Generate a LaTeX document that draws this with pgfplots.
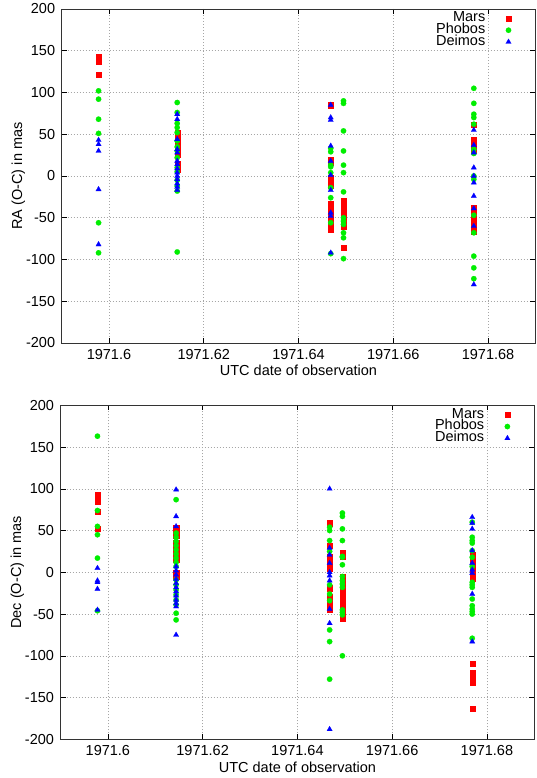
\documentclass[border=0pt]{standalone}
\usepackage{fontspec}
\setmainfont{Liberation Sans}
\usepackage{pgfplots}
\usepackage{pgfplotstable}
\pgfplotsset{compat=1.18}
% strip the year so that pgfplots works with the fraction (precision)
\def\stripyear#1.#2\relax{0.#2}

% ---------------- RA (O-C) ----------------
\pgfplotstableread{
x y
1971.5978 143
1971.5978 140
1971.5978 137
1971.5978 121
1971.6144 52
1971.6144 48
1971.6144 45
1971.6144 42
1971.6144 38
1971.6144 35
1971.6144 30
1971.6144 26
1971.6144 15
1971.6144 8
1971.6468 85
1971.6468 19
1971.6468 16
1971.6468 -2
1971.6468 -6
1971.6468 -11
1971.6468 -33
1971.6468 -38
1971.6468 -43
1971.6468 -49
1971.6468 -55
1971.6468 -60
1971.6468 -64
1971.6495 -30
1971.6495 -35
1971.6495 -40
1971.6495 -45
1971.6495 -50
1971.6495 -55
1971.6495 -60
1971.6495 -86
1971.6770 62
1971.6770 43
1971.6770 39
1971.6770 35
1971.6770 31
1971.6770 -38
1971.6770 -43
1971.6770 -48
1971.6770 -53
1971.6770 -58
1971.6770 -63
1971.6770 -67
}\raMars
\pgfplotstableread{
x y
1971.5978 102
1971.5978 92
1971.5978 68
1971.5978 51
1971.5978 -56
1971.5978 -92
1971.6144 88
1971.6144 76
1971.6144 63
1971.6144 58
1971.6144 52
1971.6144 42
1971.6144 35
1971.6144 30
1971.6144 22
1971.6144 10
1971.6144 5
1971.6144 -5
1971.6144 -12
1971.6144 -18
1971.6144 -91
1971.6468 33
1971.6468 29
1971.6468 13
1971.6468 11
1971.6468 4
1971.6468 -14
1971.6468 -26
1971.6468 -56
1971.6468 -93
1971.6495 90
1971.6495 87
1971.6495 54
1971.6495 30
1971.6495 13
1971.6495 4
1971.6495 -19
1971.6495 -50
1971.6495 -54
1971.6495 -58
1971.6495 -68
1971.6495 -74
1971.6495 -99
1971.6770 105
1971.6770 87
1971.6770 74
1971.6770 70
1971.6770 62
1971.6770 32
1971.6770 27
1971.6770 0
1971.6770 -4
1971.6770 -47
1971.6770 -68
1971.6770 -96
1971.6770 -110
1971.6770 -123
}\raPhobos
\pgfplotstableread{
x y
1971.5978 43
1971.5978 38
1971.5978 30
1971.5978 -16
1971.5978 -82
1971.6144 74
1971.6144 68
1971.6144 44
1971.6144 32
1971.6144 28
1971.6144 18
1971.6144 14
1971.6144 9
1971.6144 4
1971.6144 0
1971.6144 -4
1971.6144 -9
1971.6144 -13
1971.6144 -17
1971.6468 85
1971.6468 70
1971.6468 67
1971.6468 36
1971.6468 18
1971.6468 1
1971.6468 -17
1971.6468 -44
1971.6468 -48
1971.6468 -92
1971.6770 55
1971.6770 37
1971.6770 28
1971.6770 10
1971.6770 0
1971.6770 -8
1971.6770 -24
1971.6770 -39
1971.6770 -60
1971.6770 -130
}\raDeimos

% ---------------- Dec (O-C) ----------------
\pgfplotstableread{
x y
1971.5978 93
1971.5978 89
1971.5978 85
1971.5978 73
1971.5978 52
1971.6144 53
1971.6144 48
1971.6144 44
1971.6144 35
1971.6144 30
1971.6144 27
1971.6144 21
1971.6144 15
1971.6144 -1
1971.6144 -5
1971.6468 59
1971.6468 32
1971.6468 19
1971.6468 14
1971.6468 9
1971.6468 5
1971.6468 -19
1971.6468 -29
1971.6468 -34
1971.6468 -39
1971.6468 -44
1971.6495 23
1971.6495 19
1971.6495 -5
1971.6495 -10
1971.6495 -15
1971.6495 -20
1971.6495 -25
1971.6495 -30
1971.6495 -35
1971.6495 -40
1971.6495 -45
1971.6495 -50
1971.6495 -55
1971.6769 21
1971.6769 15
1971.6769 10
1971.6769 5
1971.6769 0
1971.6769 -4
1971.6769 -7
1971.6769 -109
1971.6769 -120
1971.6769 -125
1971.6769 -132
1971.6769 -163
}\deMars
\pgfplotstableread{
x y
1971.5978 163
1971.5978 74
1971.5978 55
1971.5978 45
1971.5978 17
1971.5978 -46
1971.6144 87
1971.6144 47
1971.6144 42
1971.6144 37
1971.6144 32
1971.6144 27
1971.6144 22
1971.6144 17
1971.6144 12
1971.6144 7
1971.6144 -9
1971.6144 -15
1971.6144 -21
1971.6144 -27
1971.6144 -33
1971.6144 -39
1971.6144 -49
1971.6144 -57
1971.6468 54
1971.6468 50
1971.6468 38
1971.6468 25
1971.6468 -15
1971.6468 -26
1971.6468 -34
1971.6468 -69
1971.6468 -83
1971.6468 -128
1971.6495 71
1971.6495 67
1971.6495 52
1971.6495 38
1971.6495 19
1971.6495 18
1971.6495 9
1971.6495 -5
1971.6495 -10
1971.6495 -14
1971.6495 -18
1971.6495 -45
1971.6495 -48
1971.6495 -51
1971.6495 -100
1971.6769 60
1971.6769 42
1971.6769 38
1971.6769 35
1971.6769 26
1971.6769 18
1971.6769 7
1971.6769 -12
1971.6769 -15
1971.6769 -18
1971.6769 -32
1971.6769 -40
1971.6769 -44
1971.6769 -47
1971.6769 -50
1971.6769 -79
}\dePhobos
\pgfplotstableread{
x y
1971.5978 5
1971.5978 -10
1971.5978 -12
1971.5978 -20
1971.5978 -45
1971.6144 99
1971.6144 67
1971.6144 55
1971.6144 7
1971.6144 2
1971.6144 -3
1971.6144 -8
1971.6144 -13
1971.6144 -18
1971.6144 -23
1971.6144 -28
1971.6144 -33
1971.6144 -37
1971.6144 -41
1971.6144 -75
1971.6468 100
1971.6468 29
1971.6468 21
1971.6468 11
1971.6468 0
1971.6468 -4
1971.6468 -10
1971.6468 -44
1971.6468 -61
1971.6468 -188
1971.6769 66
1971.6769 59
1971.6769 52
1971.6769 26
1971.6769 11
1971.6769 3
1971.6769 -1
1971.6769 -26
1971.6769 -83
}\deDeimos

\definecolor{gpred}{RGB}{255,0,0}
\definecolor{gpgreen}{RGB}{0,238,0}
\definecolor{gpblue}{RGB}{0,0,255}

\pgfplotsset{
  gp/.style={
    scale only axis, width=473.8bp, height=334bp,
    anchor=south west,
    xmin=1971.59, xmax=1971.69, ymin=-200, ymax=200,
    x coord trafo/.code={\edef\tmpx{##1}\edef\pgfmathresult{\expandafter\stripyear\tmpx\relax}},
    xtick={1971.6,1971.62,1971.64,1971.66,1971.68},
    xticklabels={1971.6,1971.62,1971.64,1971.66,1971.68},
    ytick={-200,-150,-100,-50,0,50,100,150,200},
    /pgf/number format/assume math mode=true,
    tick label style={font=\fontsize{14.5bp}{17bp}\selectfont},
    label style={font=\fontsize{14.5bp}{17bp}\selectfont},
    xticklabel style={yshift=-3bp},
    yticklabel style={xshift=-3bp},
    ylabel style={yshift=-6bp},
    axis line style={black!80, line width=0.8bp},
    tick style={black, line width=0.6bp},
    major tick length=5bp,
    grid=major,
    major grid style={gray!70, line width=0.5bp, dash pattern=on 1bp off 2bp},
    legend plot pos=right,
    legend cell align=right,
    legend image code/.code={\path (0bp,0bp) (25bp,0bp); \draw[##1] plot coordinates {(22bp,0bp)};},
    legend style={draw=none, fill=none, at={(rel axis cs:1,1)}, anchor=north east,
      xshift=-23.5bp, yshift=-3.5bp, inner sep=0pt, column sep=0pt,
      font=\fontsize{14.5bp}{17bp}\selectfont,
      row sep=0pt,
      nodes={inner ysep=0pt, inner xsep=1bp, text height=9bp, text depth=2.7bp}},
    xlabel={UTC date of observation},
  },
  mars/.style={only marks, mark=square*, mark size=2.6bp, color=gpred, mark options={line width=0.2bp}},
  phobos/.style={only marks, mark=*, mark size=2.7bp, color=gpgreen, mark options={line width=0.2bp}},
  deimos/.style={only marks, mark=triangle*, mark size=3.1bp, color=gpblue, mark options={line width=0.2bp}},
}

\begin{document}
\begin{tikzpicture}
\useasboundingbox (0,0) rectangle (537bp,778bp);
\begin{axis}[gp, at={(61.6bp,435bp)}, ylabel={RA (O-C) in mas}, xlabel style={yshift=2bp}]
\addplot[mars] table[x=x,y=y] {\raMars};
\addplot[phobos] table[x=x,y=y] {\raPhobos};
\addplot[deimos] table[x=x,y=y] {\raDeimos};
\legend{Mars,Phobos,Deimos}
\end{axis}
\begin{axis}[gp, at={(60.5bp,38.7bp)}, ylabel={Dec (O-C) in mas}, xlabel style={yshift=1bp}]
\addplot[mars] table[x=x,y=y] {\deMars};
\addplot[phobos] table[x=x,y=y] {\dePhobos};
\addplot[deimos] table[x=x,y=y] {\deDeimos};
\legend{Mars,Phobos,Deimos}
\end{axis}
\end{tikzpicture}
\end{document}
